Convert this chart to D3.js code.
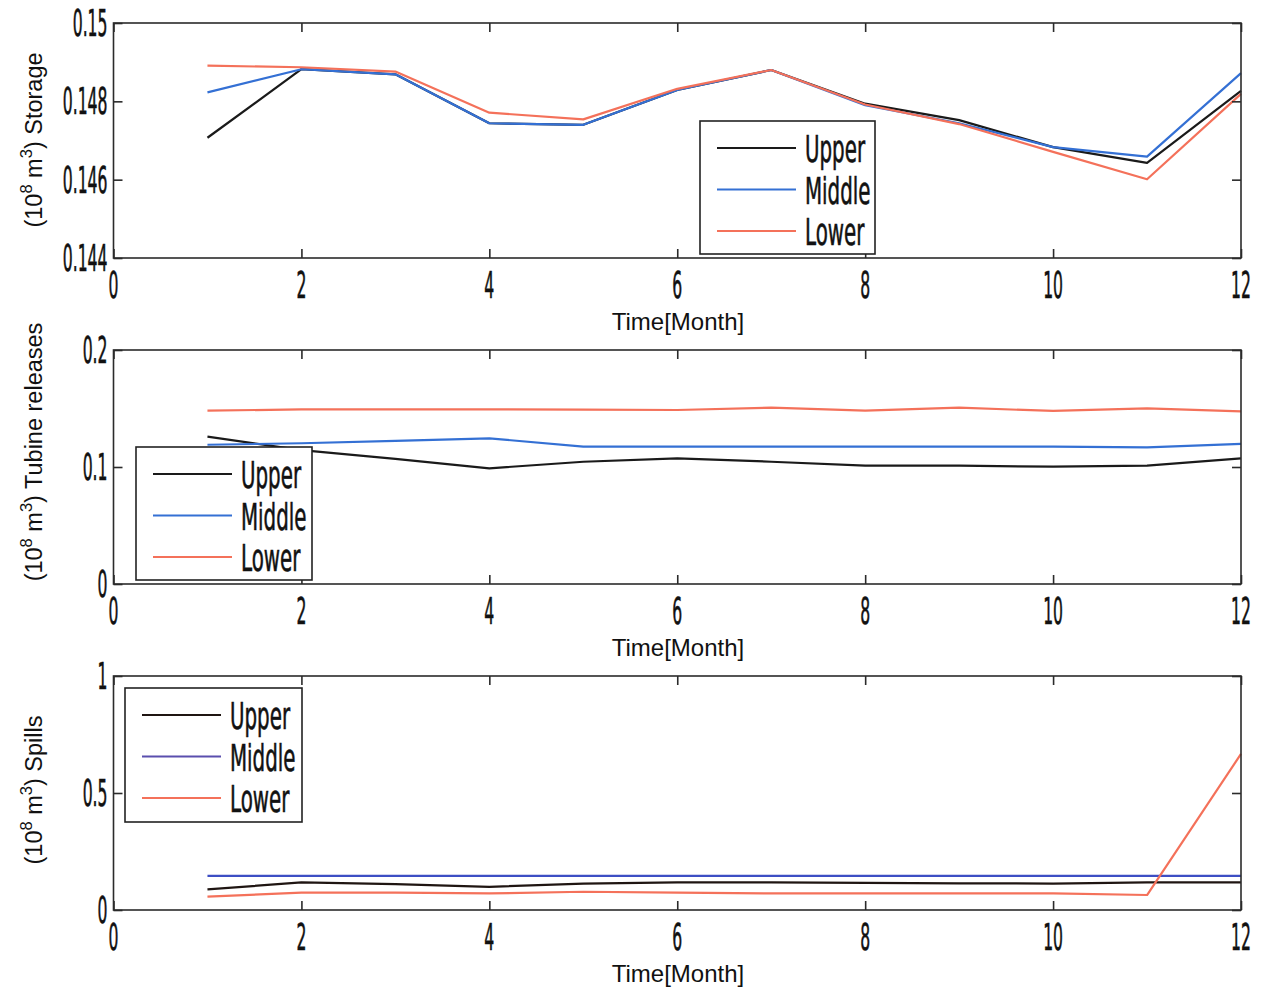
<!DOCTYPE html>
<html>
<head>
<meta charset="utf-8">
<script src="https://cdn.jsdelivr.net/npm/d3@7"></script>
<style>
  body { margin: 0; background: #fff; }
  svg { display: block; }
</style>
</head>
<body>
<svg id="chart" width="1261" height="990"></svg>
<script>
// data
var months = [1, 2, 3, 4, 5, 6, 7, 8, 9, 10, 11, 12]
var seriesNames = ["Upper", "Middle", "Lower"]

var storageUpper  = [0.14707, 0.14882, 0.14869, 0.14744, 0.14740, 0.14829, 0.14880, 0.14794, 0.14752, 0.14683, 0.14643, 0.14827]
var storageMiddle = [0.14823, 0.14882, 0.14869, 0.14744, 0.14740, 0.14829, 0.14880, 0.14790, 0.14744, 0.14683, 0.14659, 0.14872]
var storageLower  = [0.14891, 0.14887, 0.14876, 0.14771, 0.14754, 0.14832, 0.14880, 0.14792, 0.14742, 0.14671, 0.14601, 0.14819]

var releaseUpper  = [0.1259, 0.1145, 0.1070, 0.0989, 0.1045, 0.1074, 0.1045, 0.1011, 0.1011, 0.1003, 0.1011, 0.1074]
var releaseMiddle = [0.1190, 0.1203, 0.1224, 0.1245, 0.1174, 0.1174, 0.1174, 0.1174, 0.1174, 0.1174, 0.1168, 0.1197]
var releaseLower  = [0.1481, 0.1493, 0.1493, 0.1493, 0.1490, 0.1487, 0.1507, 0.1482, 0.1507, 0.1479, 0.1501, 0.1476]

var spillUpper  = [0.088, 0.118, 0.111, 0.099, 0.113, 0.118, 0.118, 0.116, 0.114, 0.113, 0.118, 0.118]
var spillMiddle = [0.146, 0.146, 0.146, 0.146, 0.146, 0.146, 0.146, 0.146, 0.146, 0.146, 0.146, 0.146]
var spillLower  = [0.057, 0.074, 0.074, 0.071, 0.078, 0.074, 0.071, 0.071, 0.071, 0.071, 0.064, 0.667]

var xTicks = [0, 2, 4, 6, 8, 10, 12]
var storageTicks = [0.144, 0.146, 0.148, 0.15]
var releaseTicks = [0, 0.1, 0.2]
var spillTicks = [0, 0.5, 1]

var svg = d3.select("#chart")
var left = 113.5, right = 1241
var narrowFont = "'Liberation Sans Narrow', 'DejaVu Sans Condensed', sans-serif"
var plainFont = "'Liberation Sans', Arial, sans-serif"

// tall narrow text like the figure's tick font
function narrowText(g, x, y, str, anchor, size, sx) {
    g.append("text")
        .attr("transform", `translate(${x},${y}) scale(${sx},1)`)
        .attr("text-anchor", anchor)
        .attr("font-family", narrowFont)
        .attr("font-size", size)
        .attr("fill", "#111")
        .attr("stroke", "#111")
        .attr("stroke-width", 0.6)
        .text(str)
}

function panel(cfg) {
    var top = cfg.top, bottom = cfg.bottom
    var g = svg.append("g")

    var x = d3.scaleLinear().domain([0, 12]).range([left, right])
    var y = d3.scaleLinear().domain(cfg.domain).range([bottom, top])

    // lines
    var line = d3.line().x((d, i) => x(months[i])).y(d => y(d))
    cfg.series.forEach((s, i) => {
        g.append("path")
            .datum(s)
            .attr("fill", "none")
            .attr("stroke", cfg.colors[i])
            .attr("stroke-width", 2.2)
            .attr("stroke-linejoin", "round")
            .attr("d", line)
    })

    // box + inward ticks (matlab style)
    var axisColor = "#2b2b2b"
    g.append("g").attr("transform", `translate(0,${bottom})`)
        .call(d3.axisTop(x).tickValues(xTicks).tickSize(9).tickFormat("").tickSizeOuter(0))
    g.append("g").attr("transform", `translate(0,${top})`)
        .call(d3.axisBottom(x).tickValues(xTicks).tickSize(9).tickFormat("").tickSizeOuter(0))
    g.append("g").attr("transform", `translate(${left},0)`)
        .call(d3.axisRight(y).tickValues(cfg.ticks).tickSize(9).tickFormat("").tickSizeOuter(0))
    g.append("g").attr("transform", `translate(${right},0)`)
        .call(d3.axisLeft(y).tickValues(cfg.ticks).tickSize(9).tickFormat("").tickSizeOuter(0))
    g.selectAll(".domain").remove()
    g.selectAll(".tick line").attr("stroke", axisColor).attr("stroke-width", 1.6)
    g.append("rect")
        .attr("x", left).attr("y", top)
        .attr("width", right - left).attr("height", bottom - top)
        .attr("fill", "none").attr("stroke", axisColor).attr("stroke-width", 1.6)

    // tick labels
    xTicks.forEach(t => narrowText(g, x(t), bottom + 40, String(t), "middle", 37, 0.47))
    cfg.ticks.forEach(t => narrowText(g, left - 6, y(t) + 13, cfg.fmt(t), "end", 37, 0.47))

    g.append("text")
        .attr("x", 678).attr("y", bottom + 72)
        .attr("text-anchor", "middle")
        .attr("font-family", plainFont)
        .attr("font-size", 24)
        .attr("fill", "#111")
        .text("Time[Month]")

    // y label with superscripts
    var yl = g.append("text")
        .attr("transform", `translate(42,${cfg.labelY}) rotate(-90)`)
        .attr("text-anchor", "middle")
        .attr("font-family", plainFont)
        .attr("font-size", 23.5)
        .attr("fill", "#111")
    yl.append("tspan").text("(10")
    yl.append("tspan").attr("dy", -10).attr("font-size", 16.5).text("8")
    yl.append("tspan").attr("dy", 10).text(" m")
    yl.append("tspan").attr("dy", -10).attr("font-size", 16.5).text("3")
    yl.append("tspan").attr("dy", 10).text(") " + cfg.label)

    // legend
    var lg = cfg.legend
    g.append("rect")
        .attr("x", lg.x).attr("y", lg.y)
        .attr("width", lg.w).attr("height", lg.h)
        .attr("fill", "#fff").attr("stroke", "#222").attr("stroke-width", 1.6)
    seriesNames.forEach((name, i) => {
        var ry = lg.y + 27 + i * 41.5
        g.append("line")
            .attr("x1", lg.x + 17).attr("x2", lg.x + 96)
            .attr("y1", ry).attr("y2", ry)
            .attr("stroke", cfg.legendColors ? cfg.legendColors[i] : cfg.colors[i])
            .attr("stroke-width", 2)
        narrowText(g, lg.x + 105, ry + 14, name, "start", 38, 0.58)
    })
}

panel({
    top: 23, bottom: 258,
    domain: [0.144, 0.15], ticks: storageTicks,
    fmt: d => d === 0.15 ? "0.15" : d3.format(".3f")(d),
    series: [storageUpper, storageMiddle, storageLower],
    colors: ["#1a1a1a", "#3470d4", "#f4715a"],
    label: "Storage", labelY: 140,
    legend: { x: 700, y: 121, w: 175, h: 133 }
})

panel({
    top: 350, bottom: 584,
    domain: [0, 0.2], ticks: releaseTicks,
    fmt: d => d === 0 ? "0" : String(d),
    series: [releaseUpper, releaseMiddle, releaseLower],
    colors: ["#1a1a1a", "#3470d4", "#f4715a"],
    label: "Tubine releases", labelY: 452,
    legend: { x: 136, y: 447, w: 176, h: 133 }
})

panel({
    top: 676, bottom: 910,
    domain: [0, 1], ticks: spillTicks,
    fmt: d => String(d),
    series: [spillUpper, spillMiddle, spillLower],
    colors: ["#1f1512", "#3d4ec4", "#f4715a"],
    legendColors: ["#1f1512", "#5a4fae", "#f4715a"],
    label: "Spills", labelY: 790,
    legend: { x: 125, y: 688, w: 177, h: 134 }
})
</script>
</body>
</html>
